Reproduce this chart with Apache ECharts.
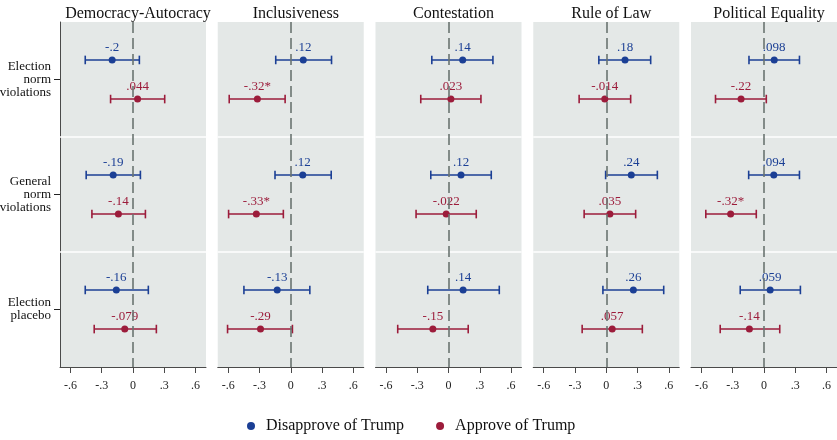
<!DOCTYPE html>
<html>
<head>
<meta charset="utf-8">
<script src="https://cdn.jsdelivr.net/npm/echarts@6/dist/echarts.min.js"></script>
<style>
html,body{margin:0;padding:0;background:#fff;}
#chart{width:837px;height:440px;}
</style>
</head>
<body>
<div id="chart"></div>
<script>
const panelTitles = ["Democracy-Autocracy", "Inclusiveness", "Contestation", "Rule of Law", "Political Equality"];
const rowLabels = ["Election\nnorm\nviolations", "General\nnorm\nviolations", "Election\nplacebo"];
const xTicks = [-0.6, -0.3, 0, 0.3, 0.6];
const seriesNames = ["Disapprove of Trump", "Approve of Trump"];

// Disapprove of Trump: estimates, CI low, CI high, labels (per panel, rows in order)
const disEst = [[-0.2, -0.19, -0.16], [0.12, 0.115, -0.13], [0.136, 0.12, 0.14], [0.18, 0.24, 0.26], [0.098, 0.094, 0.059]];
const disLo  = [[-0.458, -0.449, -0.458], [-0.144, -0.151, -0.449], [-0.160, -0.170, -0.199], [-0.071, -0.006, -0.032], [-0.144, -0.147, -0.228]];
const disHi  = [[0.061, 0.071, 0.147], [0.391, 0.388, 0.183], [0.426, 0.410, 0.487], [0.426, 0.490, 0.551], [0.340, 0.340, 0.349]];
const disLab = [["-.2", "-.19", "-.16"], [".12", ".12", "-.13"], [".14", ".12", ".14"], [".18", ".24", ".26"], [".098", ".094", ".059"]];

// Approve of Trump
const appEst = [[0.044, -0.14, -0.079], [-0.32, -0.33, -0.29], [0.023, -0.022, -0.15], [-0.014, 0.035, 0.057], [-0.22, -0.32, -0.14]];
const appLo  = [[-0.215, -0.394, -0.372], [-0.590, -0.596, -0.606], [-0.266, -0.311, -0.487], [-0.260, -0.212, -0.231], [-0.465, -0.558, -0.420]];
const appHi  = [[0.304, 0.119, 0.224], [-0.054, -0.071, 0.016], [0.311, 0.266, 0.189], [0.234, 0.282, 0.346], [0.022, -0.074, 0.151]];
const appLab = [[".044", "-.14", "-.079"], ["-.32*", "-.33*", "-.29"], [".023", "-.022", "-.15"], ["-.014", ".035", ".057"], ["-.22", "-.32*", "-.14"]];

const BLUE = '#1b3f95';
const RED = '#9c1c3b';
const BG = '#e4e8e7';
const FONT = "'Liberation Serif', 'Times New Roman', serif";

const chart = echarts.init(document.getElementById('chart'));

const gridLeft0 = 60, gridStep = 157.75, gridW = 146, gridTop = 22, gridH = 345;
const grids = [], xAxes = [], yAxes = [], titles = [], series = [];

function fmtTick(v) {
  if (Math.abs(v) < 1e-9) return '0';
  const s = Math.abs(v).toFixed(1).replace(/^0/, '');
  return (v < 0 ? '-' : '') + s;
}

function errRender(params, api) {
  const lo = api.coord([api.value(0), api.value(2)]);
  const hi = api.coord([api.value(1), api.value(2)]);
  const c = api.visual('color');
  const h = 4.3;
  const st = { stroke: c, lineWidth: 1.6 };
  return {
    type: 'group',
    children: [
      { type: 'line', shape: { x1: lo[0], y1: lo[1], x2: hi[0], y2: hi[1] }, style: st },
      { type: 'line', shape: { x1: lo[0], y1: lo[1] - h, x2: lo[0], y2: lo[1] + h }, style: st },
      { type: 'line', shape: { x1: hi[0], y1: hi[1] - h, x2: hi[0], y2: hi[1] + h }, style: st }
    ]
  };
}

for (let p = 0; p < panelTitles.length; p++) {
  const left = gridLeft0 + p * gridStep;
  grids.push({ left: left, top: gridTop, width: gridW, height: gridH, show: true, backgroundColor: BG, borderWidth: 0, containLabel: false, outerBoundsMode: 'none' });
  titles.push({
    text: panelTitles[p], left: left + gridW / 2, top: 1, textAlign: 'center',
    textStyle: { fontFamily: FONT, fontSize: 16, fontWeight: 'normal', color: '#111' }
  });
  xAxes.push({
    gridIndex: p, type: 'value', min: -0.7, max: 0.7,
    axisLine: { show: true, onZero: false, lineStyle: { color: '#4a4a4a', width: 1 } },
    axisTick: { show: true, length: 6, customValues: xTicks, lineStyle: { color: '#4a4a4a' } },
    axisLabel: { customValues: xTicks, formatter: fmtTick, margin: 13, fontFamily: FONT, fontSize: 12, color: '#222' },
    splitLine: { show: false }
  });
  yAxes.push({
    gridIndex: p, type: 'value', min: 0, max: 3, inverse: true,
    axisLine: { show: p === 0, onZero: false, lineStyle: { color: '#4a4a4a', width: 1 } },
    axisTick: { show: p === 0, length: 6, customValues: [0.5, 1.5, 2.5], lineStyle: { color: '#222' } },
    axisLabel: {
      show: p === 0, customValues: [0.5, 1.5, 2.5],
      formatter: v => rowLabels[Math.round(v - 0.5)],
      margin: 9, fontFamily: FONT, fontSize: 13, lineHeight: 13, color: '#111', align: 'right'
    },
    splitLine: { show: false }
  });

  // row separator lines (white) at boundaries between rows
  series.push({
    type: 'line', xAxisIndex: p, yAxisIndex: p, data: [], z: 1, silent: true,
    markLine: {
      silent: true, symbol: ['none', 'none'], label: { show: false },
      lineStyle: { color: '#ffffff', type: 'solid', width: 1.5 },
      data: [{ yAxis: 1 }, { yAxis: 2 }], animation: false
    }
  });

  const groups = [
    { name: seriesNames[0], color: BLUE, est: disEst[p], lo: disLo[p], hi: disHi[p], lab: disLab[p], off: -0.17 },
    { name: seriesNames[1], color: RED, est: appEst[p], lo: appLo[p], hi: appHi[p], lab: appLab[p], off: 0.17 }
  ];
  groups.forEach((g, gi) => {
    const errData = g.est.map((_, r) => [g.lo[r], g.hi[r], r + 0.5 + g.off]);
    const ptData = g.est.map((v, r) => [v, r + 0.5 + g.off, g.lab[r]]);
    series.push({
      name: g.name, type: 'custom', xAxisIndex: p, yAxisIndex: p, z: 2,
      itemStyle: { color: g.color }, renderItem: errRender, data: errData,
      encode: { x: [0, 1], y: 2 }, silent: true
    });
    series.push({
      name: g.name, type: 'scatter', xAxisIndex: p, yAxisIndex: p, z: 4,
      symbol: 'circle', symbolSize: 7, itemStyle: { color: g.color, opacity: 1 },
      data: ptData,
      label: {
        show: true, position: 'top', distance: 2, formatter: d => d.data[2],
        fontFamily: FONT, fontSize: 13, color: g.color
      },
      silent: true
    });
  });
  // zero reference line
  series.push({
    type: 'line', xAxisIndex: p, yAxisIndex: p, data: [], z: 3, silent: true,
    markLine: {
      silent: true, symbol: ['none', 'none'], label: { show: false },
      lineStyle: { color: '#6a7471', type: [11, 5], width: 1.6 },
      data: [{ xAxis: 0 }], animation: false
    }
  });
}

chart.setOption({
  animation: false,
  backgroundColor: '#ffffff',
  title: titles,
  grid: grids,
  xAxis: xAxes,
  yAxis: yAxes,
  legend: {
    data: seriesNames.map(n => ({ name: n, icon: 'circle' })),
    left: 242, top: 413, itemWidth: 8, itemHeight: 8, itemGap: 32,
    textStyle: { fontFamily: FONT, fontSize: 16, color: '#111', padding: [0, 0, 0, 6] },
    selectedMode: false
  },
  series: series
});
</script>
</body>
</html>
